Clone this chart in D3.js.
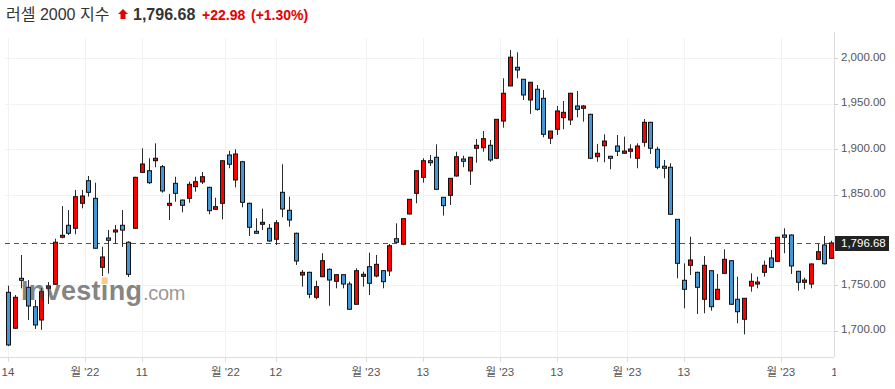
<!DOCTYPE html>
<html><head><meta charset="utf-8">
<script src="https://cdn.jsdelivr.net/npm/d3@7/dist/d3.min.js"></script>
<style>
html,body{margin:0;padding:0;background:#fff;}
svg{display:block;font-family:"Liberation Sans",Arial,"Noto Sans CJK KR",sans-serif;}
</style></head>
<body><svg id="chart" width="895" height="389"></svg>
<script>
// ---- data (index = trading day, 2022-10-14 .. 2023-04-13) ----
const open = [1742.3,1702.7,1757.7,1747.8,1726.4,1711.8,1746.7,1751.1,1802.9,1816.1,1812.8,1840.3,1865.2,1845.8,1769.8,1802.1,1808.7,1816.1,1797.4,1812.8,1874.4,1876.2,1887.2,1880.6,1838.1,1862.3,1843.9,1845.8,1858.6,1863.8,1857.9,1833.7,1840.3,1893.5,1866.0,1886.1,1840.3,1809.5,1817.2,1812.8,1800.7,1852.4,1832.6,1807.3,1761.3,1764.3,1736.8,1759.5,1767.6,1754.4,1761.7,1751.4,1729.1,1759.9,1770.5,1760.2,1766.1,1765.8,1801.3,1795.2,1828.5,1851.3,1868.9,1887.2,1891.0,1846.9,1849.1,1870.4,1889.1,1875.9,1900.9,1901.5,1904.2,1889.9,1930.9,1969.5,1990.1,1976.9,1954.1,1965.9,1955.9,1911.9,1921.8,1934.6,1932.1,1947.5,1944.9,1938.3,1891.6,1903.7,1892.1,1903.4,1895.4,1897.6,1889.9,1907.5,1929.5,1899.8,1881.1,1880.0,1822.7,1755.5,1772.0,1764.3,1734.6,1766.1,1734.6,1763.2,1777.1,1734.6,1712.6,1749.2,1751.4,1764.3,1780.1,1776.4,1805.4,1805.4,1765.4,1753.3,1751.4,1778.6,1794.4,1779.7];
const high = [1749.6,1739.3,1783.4,1755.8,1733.8,1747.0,1753.6,1801.3,1837.3,1832.9,1855.0,1855.0,1870.4,1863.0,1792.5,1810.9,1816.4,1832.9,1798.5,1869.5,1900.9,1889.9,1906.4,1882.5,1850.6,1869.6,1844.5,1864.1,1869.6,1874.8,1858.5,1846.5,1887.5,1898.2,1899.8,1887.0,1841.0,1823.8,1834.4,1817.5,1821.9,1883.3,1847.6,1808.0,1766.8,1765.0,1755.1,1785.3,1768.7,1762.0,1762.0,1754.0,1768.7,1765.0,1785.9,1783.4,1766.5,1795.5,1818.3,1823.5,1845.0,1876.5,1889.9,1893.5,1905.3,1847.0,1868.0,1897.1,1892.7,1891.6,1911.1,1919.9,1910.0,1933.0,1978.0,2009.1,2006.6,1977.0,1974.0,1970.6,1965.1,1920.0,1947.5,1953.0,1962.0,1964.0,1948.6,1939.0,1905.6,1916.3,1892.5,1915.5,1913.7,1905.3,1906.4,1933.2,1930.0,1902.6,1888.0,1884.4,1823.0,1774.2,1803.5,1765.0,1782.3,1766.5,1762.5,1789.6,1777.5,1759.5,1736.0,1763.2,1759.5,1777.1,1788.9,1803.0,1812.8,1806.0,1766.0,1758.4,1774.0,1795.5,1804.3,1799.1];
const low = [1683.0,1702.0,1746.7,1711.8,1701.9,1701.0,1729.4,1750.5,1801.8,1805.4,1806.2,1834.8,1847.6,1790.5,1760.2,1763.0,1795.5,1792.2,1759.2,1812.0,1873.6,1861.6,1880.0,1852.0,1821.9,1842.0,1830.4,1841.0,1853.1,1861.6,1828.2,1833.0,1822.7,1878.9,1857.9,1835.9,1804.3,1806.8,1810.9,1798.0,1794.4,1824.9,1814.5,1772.4,1748.5,1735.7,1734.6,1759.0,1727.5,1746.7,1746.7,1723.0,1728.5,1748.5,1739.3,1758.8,1746.7,1760.2,1796.3,1794.1,1828.0,1840.3,1863.0,1881.4,1855.0,1826.7,1838.4,1869.6,1880.0,1860.5,1885.0,1897.1,1886.1,1889.0,1923.6,1969.5,1978.0,1954.1,1938.7,1942.3,1913.0,1905.6,1915.5,1921.8,1926.5,1935.0,1930.2,1889.0,1886.1,1885.5,1877.8,1892.4,1895.0,1889.9,1878.9,1902.6,1894.6,1877.8,1867.8,1828.0,1757.7,1724.7,1761.3,1718.4,1719.2,1722.0,1734.0,1763.0,1728.3,1708.2,1696.0,1743.0,1746.7,1759.5,1769.5,1776.0,1785.3,1762.5,1744.1,1745.6,1746.7,1778.5,1773.0,1779.5];
const close = [1684.3,1736.8,1755.5,1727.2,1706.3,1743.0,1749.2,1797.4,1805.1,1807.3,1847.6,1848.4,1852.4,1790.8,1781.2,1799.6,1810.9,1810.8,1762.1,1868.9,1883.6,1863.0,1889.9,1853.9,1840.3,1851.3,1838.1,1861.2,1864.1,1869.6,1832.2,1836.6,1887.2,1883.3,1894.6,1841.4,1813.9,1807.3,1819.4,1798.8,1818.9,1834.0,1821.9,1776.8,1764.3,1740.1,1748.5,1777.1,1755.8,1761.7,1751.4,1723.6,1766.1,1762.1,1752.2,1773.1,1754.0,1793.6,1797.4,1823.4,1844.7,1876.2,1887.2,1885.0,1855.7,1837.7,1867.8,1891.6,1886.6,1891.0,1904.2,1911.5,1888.0,1932.8,1961.5,2001.2,1987.1,1959.6,1973.6,1943.8,1916.3,1919.9,1942.0,1940.5,1961.5,1943.8,1947.5,1889.9,1895.4,1908.9,1889.9,1897.6,1897.9,1900.1,1903.4,1929.5,1900.9,1880.0,1878.9,1828.2,1774.2,1745.6,1777.9,1747.8,1772.0,1726.4,1745.6,1778.6,1729.1,1720.9,1735.7,1754.4,1753.6,1772.0,1769.8,1802.9,1802.9,1771.3,1753.3,1755.8,1773.5,1787.0,1773.7,1796.68];

const yTicks = [1700,1750,1850,1900,1950,2000];
const xTickPos = [0,11.5,20,32.5,40,53.5,62,73.5,82,92.5,101,115.5,124];
const xTickLabels = ["14","월 '22","11","월 '22","12","월 '23","13","월 '23","13","월 '23","13","월 '23","14"];
const lastPrice = 1796.68, change = 22.98, changePct = 1.30;
const title = "러셀 2000 지수";

// ---- layout ----
const svg = d3.select("#chart");
const plotR = 834, plotT = 32, plotB = 357;
const n = close.length;
const x = d3.scaleLinear().domain([0, n-1]).range([8, 831]);
const y = d3.scaleLinear().domain([1700, 2000]).range([330.7, 58.3]);
const fmt = d3.format(",.2f");
const px = v => Math.round(v) + 0.5;
const inPlot = xTickPos.filter(d => x(d) < plotR);

// grid
const grid = svg.append("g");
grid.selectAll("line.h").data(yTicks).enter().append("line")
  .attr("x1", 5).attr("x2", plotR).attr("y1", d=>px(y(d))).attr("y2", d=>px(y(d)))
  .attr("stroke", "#f2f2f2");
grid.selectAll("line.v").data(inPlot).enter().append("line")
  .attr("x1", d=>px(x(d))).attr("x2", d=>px(x(d)))
  .attr("y1", plotT+6).attr("y2", plotB)
  .attr("stroke", "#f2f2f2");

// last price dashed line
svg.append("line").attr("x1", 5).attr("x2", plotR)
  .attr("y1", px(y(lastPrice))).attr("y2", px(y(lastPrice)))
  .attr("stroke", "#555").attr("stroke-dasharray", "5,4");

// candles
const idx = d3.range(n);
const cg = svg.append("g");
cg.selectAll("line.wick").data(idx).enter().append("line")
  .attr("x1", i=>px(x(i))).attr("x2", i=>px(x(i)))
  .attr("y1", i=>y(high[i])).attr("y2", i=>y(low[i]))
  .attr("stroke", "#2b2b2b");
cg.selectAll("rect.body").data(idx).enter().append("rect")
  .attr("x", i=>Math.round(x(i))-1.5)
  .attr("width", 4)
  .attr("y", i=>y(Math.max(open[i], close[i])))
  .attr("height", i=>Math.max(1.5, Math.abs(y(open[i])-y(close[i]))))
  .attr("fill", i=> close[i] >= open[i] ? "#ff0000" : "#4596d6")
  .attr("stroke", "#111");

// watermark
const wm = svg.append("g");
const inv = wm.append("text").attr("x", 21).attr("y", 300).attr("font-size", 27).attr("font-weight", "bold")
  .attr("fill", "#3c3c3c").attr("fill-opacity", 0.65).attr("letter-spacing", 0.3).text("Investing");
wm.append("text").attr("x", 143).attr("y", 300).attr("font-size", 20).attr("letter-spacing", -0.3)
  .attr("fill", "#3c3c3c").attr("fill-opacity", 0.55).text(".com");
const ib = inv.node().getExtentOfChar(6);
wm.append("rect").attr("x", ib.x + ib.width/2 - 3).attr("y", 277.5).attr("width", 6).attr("height", 6.5)
  .attr("fill", "#fbc98a");

// axes lines
svg.append("line").attr("x1", 0).attr("x2", plotR).attr("y1", plotB+0.5).attr("y2", plotB+0.5)
  .attr("stroke", "#dcdcdc");
svg.append("line").attr("x1", plotR+0.5).attr("x2", plotR+0.5).attr("y1", plotT).attr("y2", plotB)
  .attr("stroke", "#dcdcdc");

// y axis labels
const ya = svg.append("g");
ya.selectAll("line").data(yTicks).enter().append("line")
  .attr("x1", plotR+1).attr("x2", plotR+4).attr("y1", d=>px(y(d))).attr("y2", d=>px(y(d)))
  .attr("stroke", "#cfcfcf");
ya.selectAll("text").data(yTicks).enter().append("text")
  .attr("x", 841).attr("y", d=>y(d)-1.5).attr("dy", "0.35em")
  .attr("font-size", 11.5).attr("fill", "#555").text(d=>fmt(d));

// last price label
svg.append("rect").attr("x", 835).attr("y", Math.round(y(lastPrice))-7).attr("width", 54).attr("height", 15)
  .attr("fill", "#222");
svg.append("text").attr("x", 841).attr("y", y(lastPrice)).attr("dy", "0.36em")
  .attr("font-size", 11.5).attr("fill", "#fff").text(fmt(lastPrice));

// x axis
svg.append("clipPath").attr("id", "xclip").append("rect").attr("x", 0).attr("y", plotB).attr("width", plotR + 2).attr("height", 40);
const xa = svg.append("g").attr("clip-path", "url(#xclip)");
xa.selectAll("line").data(inPlot).enter().append("line")
  .attr("x1", d=>px(x(d))).attr("x2", d=>px(x(d)))
  .attr("y1", plotB).attr("y2", plotB+5).attr("stroke", "#dcdcdc");
xa.selectAll("text").data(xTickPos).enter().append("text")
  .attr("x", d=>x(d)).attr("y", 376).attr("text-anchor", "middle")
  .attr("font-size", 11.5).attr("fill", "#555").text((d,i)=>xTickLabels[i]);

// title
const t = svg.append("g");
t.append("text").attr("x", 6).attr("y", 20).attr("font-size", 16).attr("fill", "#333").text(title);
t.append("path").attr("d", "M123,9 L128,14 L125.5,14 L125.5,19 L120.5,19 L120.5,14 L118,14 Z").attr("fill", "#e60000");
t.append("text").attr("x", 133).attr("y", 20).attr("font-size", 16).attr("font-weight", "bold").attr("fill", "#333").text(fmt(lastPrice));
t.append("text").attr("x", 202).attr("y", 20).attr("font-size", 14).attr("font-weight", "bold").attr("fill", "#e60000").text("+" + fmt(change));
t.append("text").attr("x", 251).attr("y", 20).attr("font-size", 14).attr("font-weight", "bold").attr("fill", "#e60000").text("(+" + changePct.toFixed(2) + "%)");
</script></body></html>
